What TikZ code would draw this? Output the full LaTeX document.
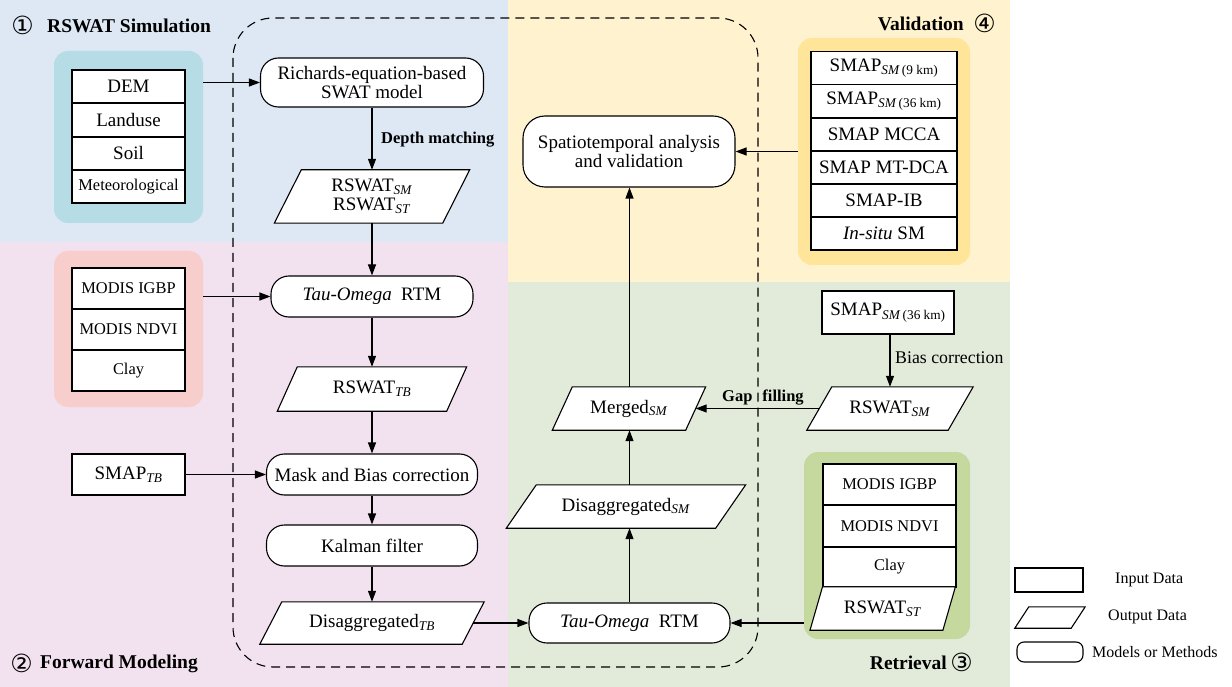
\documentclass[tikz,border=0pt]{standalone}
\usepackage{fontspec}
\setmainfont{Liberation Serif}
\newfontfamily\circfont{DejaVu Sans}
\usetikzlibrary{shapes.geometric,arrows.meta}
\newcommand\fsz[1]{\fontsize{#1}{#1}\selectfont}
\definecolor{bgblue}{RGB}{221,232,244}
\definecolor{bgpink}{RGB}{242,225,238}
\definecolor{bgyellow}{RGB}{255,242,206}
\definecolor{bggreen}{RGB}{226,235,218}
\definecolor{gteal}{RGB}{182,220,229}
\definecolor{gsalmon}{RGB}{248,206,204}
\definecolor{ggold}{RGB}{255,229,153}
\definecolor{ggreen}{RGB}{197,217,159}
% parallelogram node: name, centre, mid-width, height, slant, text
\newcommand\paranode[6]{%
  \node[parabox,minimum width=#3,minimum height=#4] (#1) at (#2) {};
  \draw[paraline] ([xshift=#5/2]#1.north west) -- ([xshift=#5/2]#1.north east)
     -- ([xshift=-#5/2]#1.south east) -- ([xshift=-#5/2]#1.south west) -- cycle;
  \node[paratext] (#1-t) at (#1.center) {#6};}
\begin{document}
\begin{tikzpicture}[x=1pt,y=-1pt,
  lw/.style={line width=1.1pt},
  inbox/.style={draw,lw,fill=white,inner sep=0pt,font=\fsz{19}},
  parabox/.style={inner sep=0pt},
  paraline/.style={draw,lw,fill=white},
  paratext/.style={inner sep=0pt,font=\fsz{19},align=center},
  method/.style={draw,lw,fill=white,rounded corners=18pt,inner sep=0pt,font=\fsz{19},align=center},
  grp/.style={rounded corners=14pt,inner sep=0pt},
  arr/.style={lw,-{Triangle[length=11pt,width=8pt]}},
  title/.style={font=\bfseries\fsz{19.5},inner sep=0pt},
  circ/.style={font=\circfont\fsz{25},inner sep=0pt},
  lgtext/.style={font=\fsz{16},anchor=west,inner sep=0pt}]
\useasboundingbox (0,0) rectangle (1232,687);
% regions
\fill[bgblue] (0,0) rectangle (508,242);
\fill[bgpink] (0,242) rectangle (508,687);
\fill[bgyellow] (508,0) rectangle (1010,282);
\fill[bggreen] (508,282) rectangle (1010,687);
\fill[white] (1010,0) rectangle (1232,687);
% section titles
\node[circ] (c1) at (22.5,25) {①};
\node[title,anchor=west] (t1) at (47,26) {RSWAT Simulation};
\node[circ] (c2) at (21.5,663) {②};
\node[title,anchor=west] (t2) at (40,664) {Forward Modeling};
\node[circ] (c4) at (984.5,23) {④};
\node[title,anchor=east] (t4) at (964,24) {Validation};
\node[circ] (c3) at (961.5,662) {③};
\node[title,anchor=east] (t3) at (947,663) {Retrieval};
% group backgrounds
\node[grp,fill=gteal,minimum width=149,minimum height=172] (g1) at (128.5,137) {};
\node[grp,fill=gsalmon,minimum width=149,minimum height=156] (g2) at (128.5,329) {};
\node[grp,fill=ggold,minimum width=172,minimum height=227] (g4) at (884,151.5) {};
\node[grp,fill=ggreen,minimum width=166,minimum height=187] (g3) at (887,545.5) {};
% dashed frame
\draw[lw,dash pattern=on 9pt off 6pt,rounded corners=40pt] (233,18) rectangle (758,667);
% group 1 table
\node[inbox,minimum width=113,minimum height=33] (dem) at (128.5,86.5) {DEM};
\node[inbox,minimum width=113,minimum height=34] (land) at (128.5,120) {Landuse};
\node[inbox,minimum width=113,minimum height=33] (soil) at (128.5,153.5) {Soil};
\node[inbox,minimum width=113,minimum height=33,font=\fsz{16.4}] (met) at (128.5,186.5) {Meteorological};
% group 2 table
\node[inbox,minimum width=113,minimum height=41,font=\fsz{16.4}] (igbp1) at (128.5,288.5) {MODIS IGBP};
\node[inbox,minimum width=113,minimum height=41,font=\fsz{16.4}] (ndvi1) at (128.5,329.5) {MODIS NDVI};
\node[inbox,minimum width=113,minimum height=41,font=\fsz{16.4}] (clay1) at (128.5,370.5) {Clay};
\node[inbox,minimum width=113,minimum height=41] (stb) at (128.5,474.5) {SMAP\textsubscript{\textit{TB}}};
% group 4 table
\node[inbox,minimum width=146,minimum height=33] (v1) at (884,68) {SMAP\textsubscript{\textit{SM}\,(9 km)}};
\node[inbox,minimum width=146,minimum height=33] (v2) at (884,101) {SMAP\textsubscript{\textit{SM}\,(36 km)}};
\node[inbox,minimum width=146,minimum height=33] (v3) at (884,134.5) {SMAP MCCA};
\node[inbox,minimum width=146,minimum height=33] (v4) at (884,167.5) {SMAP MT-DCA};
\node[inbox,minimum width=146,minimum height=33] (v5) at (884,200.5) {SMAP-IB};
\node[inbox,minimum width=146,minimum height=33] (v6) at (884,233.5) {\textit{In-situ} SM};
% group 3 table
\node[inbox,minimum width=133,minimum height=41,font=\fsz{16.4}] (igbp2) at (889.5,484.5) {MODIS IGBP};
\node[inbox,minimum width=133,minimum height=42,font=\fsz{16.4}] (ndvi2) at (889.5,526) {MODIS NDVI};
\node[inbox,minimum width=133,minimum height=40,font=\fsz{16.4}] (clay2) at (889.5,567) {Clay};
\paranode{rst}{882.7,608.5}{132.5}{43}{12.5}{RSWAT\textsubscript{\textit{ST}}}
% left column
\node[method,minimum width=223,minimum height=49] (rich) at (372,82.5) {Richards-equation-based\\SWAT model};
\paranode{rsm1}{372,196.5}{168}{53}{27}{RSWAT\textsubscript{\textit{SM}}\\RSWAT\textsubscript{\textit{ST}}}
\node[method,minimum width=202,minimum height=41] (tau1) at (372,296.5) {\textit{Tau-Omega}\enspace RTM};
\paranode{rtb}{372,389}{169}{44}{20}{RSWAT\textsubscript{\textit{TB}}}
\node[method,minimum width=211,minimum height=41] (mask) at (372,474.5) {Mask and Bias correction};
\node[method,minimum width=211,minimum height=41] (kal) at (372,545.5) {Kalman filter};
\paranode{dtb}{372,623}{202}{42}{22}{Disaggregated\textsubscript{\textit{TB}}}
% middle column
\node[method,rounded corners=22pt,minimum width=212,minimum height=71] (spat) at (629,151.5) {Spatiotemporal analysis\\and validation};
\paranode{merged}{629,408.5}{133}{43}{20}{Merged\textsubscript{\textit{SM}}}
\paranode{dsm}{626,506.5}{209}{43}{30}{Disaggregated\textsubscript{\textit{SM}}}
\node[method,minimum width=201,minimum height=40] (tau2) at (629.5,623) {\textit{Tau-Omega}\enspace RTM};
% right column
\node[inbox,minimum width=132,minimum height=43] (smap36) at (888,312.5) {SMAP\textsubscript{\textit{SM}\,(36 km)}};
\paranode{rsm2}{890,408.5}{141}{43}{25}{RSWAT\textsubscript{\textit{SM}}}
% connectors
\draw[arr] (g1.east |- rich.west) -- (rich.west);
\draw[arr] (rich.south) -- (rich.south |- rsm1.north);
\node[font=\bfseries\fsz{16.5},anchor=west,inner sep=0pt] (dm) at (381,140) {Depth matching};
\draw[arr] (rsm1.south) -- (rsm1.south |- tau1.north);
\draw[arr] (g2.east |- tau1.west) -- (tau1.west);
\draw[arr] (tau1.south) -- (tau1.south |- rtb.north);
\draw[arr] (rtb.south) -- (rtb.south |- mask.north);
\draw[arr] (stb.east) -- (stb.east -| mask.west);
\draw[arr] (mask.south) -- (mask.south |- kal.north);
\draw[arr] (kal.south) -- (kal.south |- dtb.north);
\draw[arr] (dtb.east) -- (dtb.east -| tau2.west);
\draw[arr] (g3.west |- tau2.east) -- (tau2.east);
\draw[arr] (tau2.north) -- (tau2.north |- dsm.south);
\draw[arr] (tau2.north |- dsm.north) -- (tau2.north |- merged.south);
\draw[arr] (tau2.north |- merged.north) -- (tau2.north |- spat.south);
\draw[arr] (g4.west |- spat.east) -- (spat.east);
\draw[arr] (rsm2.south |- smap36.south) -- (rsm2.north);
\node[font=\fsz{17.8},anchor=west,inner sep=0pt] (bc) at (895,358) {Bias correction};
\draw[arr] (rsm2.west) -- (merged.east);
\node[font=\bfseries\fsz{16.5},anchor=south west,inner sep=0pt] (gf) at (722,405) {Gap\hspace{10pt}filling};
% legend
\node[inbox,minimum width=68,minimum height=24] (lg1) at (1049,580) {};
\node[lgtext] (lt1) at (1115,580) {Input Data};
\paranode{lg2}{1050,617.5}{56}{21}{14}{}
\node[lgtext] (lt2) at (1108,617) {Output Data};
\node[method,rounded corners=7pt,minimum width=66,minimum height=20] (lg3) at (1050,652) {};
\node[lgtext] (lt3) at (1092,652) {Models or Methods};
\end{tikzpicture}
\end{document}
